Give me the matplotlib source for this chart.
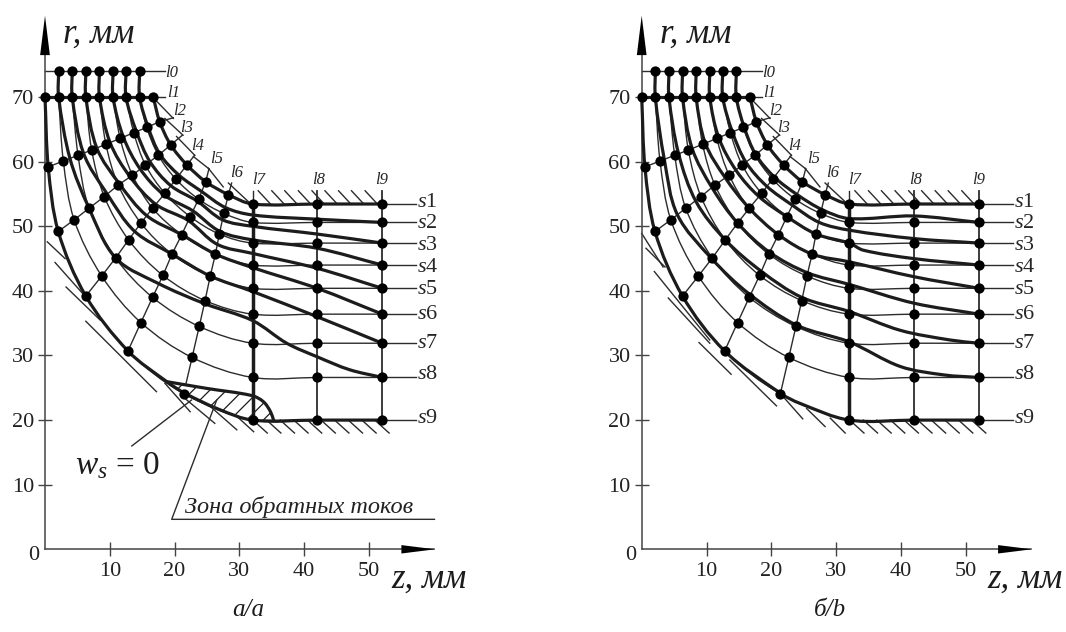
import numpy as np
import matplotlib
matplotlib.use("Agg")
import matplotlib.pyplot as plt
from matplotlib.path import Path
from matplotlib.patches import PathPatch

plt.rcParams['font.family'] = ['Liberation Serif', 'DejaVu Serif']
plt.rcParams['mathtext.fontset'] = 'custom'
plt.rcParams['mathtext.rm'] = 'Liberation Serif'
plt.rcParams['mathtext.it'] = 'Liberation Serif:italic'
plt.rcParams['hatch.linewidth'] = 0.9

INK = '#1c1c1c'
THIN = '#2c2c2c'

# Grid nodes. Each list goes s1 ... s9 along one l line.
l0_z = [2.1, 4.2, 6.3, 8.4, 10.5, 12.5, 14.6]
l0_r = [74] * 7
l1_z = [16.7, 14.6, 12.5, 10.5, 8.4, 6.3, 4.2, 2.1, 0]
l1_r = [70] * 9
l2_z = [17.7, 15.7, 13.7, 11.6, 9.4, 7.2, 5.1, 2.83, 0.5]
l2_r = [66.2, 65.3, 64.5, 63.6, 62.7, 61.8, 61.0, 60.1, 59.2]
l3_z = [19.4, 17.5, 15.5, 13.5, 11.3, 9.15, 6.8, 4.5, 2.05]
l3_r = [62.6, 61, 59.5, 57.9, 56.4, 54.6, 52.8, 51, 49.2]
l4_z = [21.9, 20.2, 18.5, 16.6, 14.8, 12.9, 10.9, 8.75, 6.3]
l4_r = [59.5, 57.3, 55.1, 52.8, 50.5, 47.9, 45.1, 42.3, 39.2]
l5_z = [24.8, 23.7, 22.4, 21.1, 19.6, 18.2, 16.6, 14.8, 12.8]
l5_r = [56.9, 54.2, 51.5, 48.7, 45.7, 42.4, 39, 35.1, 30.7]
l6_z = [28.3, 27.6, 26.9, 26.3, 25.5, 24.7, 23.8, 22.7, 21.4]
l6_r = [54.9, 52, 48.8, 45.7, 42.3, 38.5, 34.5, 29.7, 24.1]
tail_r = [53.45, 50.6, 47.4, 44, 40.4, 36.4, 31.9, 26.6, 20]
l7_z = [32.05] * 9
l8_z = [42] * 9
l9_z = [52.05] * 9

mesh_z = [l1_z, l2_z, l3_z, l4_z, l5_z, l6_z, l7_z, l8_z, l9_z]
mesh_r = [l1_r, l2_r, l3_r, l4_r, l5_r, l6_r, tail_r, tail_r, tail_r]

# Where the l lines stop, above s1
l_tip_z = [18.5, 18.5, 19.8, 21.2, 23.1, 25.3, 28.8, 32.05, 42, 52.05]
l_tip_r = [74, 70, 66.8, 64.1, 61, 58.9, 56.7, 55.5, 55.5, 55.5]
l_names = ['l0', 'l1', 'l2', 'l3', 'l4', 'l5', 'l6', 'l7', 'l8', 'l9']
l_name_z = [19.6, 19.8, 20.7, 21.9, 23.6, 26.5, 29.5, 32.9, 42.2, 52.0]
l_name_r = [73.8, 70.6, 67.9, 65.2, 62.5, 60.4, 58.3, 57.2, 57.2, 57.2]
s_names = ['s1', 's2', 's3', 's4', 's5', 's6', 's7', 's8', 's9']
s_line_end = 57.3
s_name_r = [53.7, 50.4, 47, 43.6, 40.2, 36.4, 31.9, 27.1, 20.3]

# Thick stream lines, panel a
a_s1 = ([16.7, 17.7, 19.4, 21.9, 24.8, 28.3, 32.05, 42, 52.05],
        [70, 66.2, 62.6, 59.5, 56.9, 54.9, 53.45, 53.45, 53.45])
a_s2 = ([14.6, 14.6, 15.9, 17.7, 20.7, 24.15, 27.85, 32.05, 42, 52.05],
        [74, 70, 65.4, 61.2, 57.9, 55.4, 52.9, 51.75, 51.1, 50.6])
a_s3 = ([12.5, 12.5, 14.1, 16.2, 19.4, 23.5, 27.4, 32.05, 42, 52.05],
        [74, 70, 64.7, 60, 56.3, 53.9, 51, 50, 48.8, 47.4])
a_s4 = ([10.5, 10.5, 12.1, 14.7, 18.3, 22.8, 27, 32.05, 42, 52.05],
        [74, 70, 63.8, 58.85, 54.9, 52.4, 49.2, 47.9, 46.6, 44])
a_s5 = ([8.4, 8.4, 10.05, 13.1, 17.1, 22.1, 26.6, 32.05, 42, 52.05],
        [74, 70, 62.95, 57.7, 53.4, 50.9, 47.2, 45.8, 43.5, 40.4])
a_s6 = ([6.3, 6.3, 8, 11.5, 15.7, 21.1, 26.3, 32.05, 42, 52.05],
        [74, 70, 62.1, 56.55, 51.65, 48.7, 45.7, 43.6, 40.4, 36.4])
a_s7 = ([4.2, 4.2, 5.95, 9.6, 13.85, 19.6, 25.5, 32.05, 42, 52.05],
        [74, 70, 61.3, 55, 49.2, 45.7, 42.3, 39.9, 36, 31.9])
a_s8 = ([2.1, 2.1, 3.85, 6.8, 10.9, 17.4, 24.7, 32.05, 37.3, 42, 47, 52.05],
        [74, 70, 60.5, 52.8, 45.1, 41.2, 38, 35.4, 31.9, 29.8, 27.8, 26.6])
a_s9 = ([0, 0.5, 2.05, 6.3, 12.8, 18.8, 21.6, 27, 32.05, 42, 52.05],
        [70, 59.2, 49.2, 39.2, 30.7, 25.95, 24.15, 21.6, 20, 20, 20])
a_thick = [a_s1, a_s2, a_s3, a_s4, a_s5, a_s6, a_s7, a_s8, a_s9]

# Thick stream lines, panel b
b_s2 = ([14.6, 14.6, 15.8, 17.6, 20.5, 24, 27.8, 32.05, 42, 52.05],
        [74, 70, 65.4, 61.1, 57.6, 54.9, 52.6, 51.2, 51.6, 50.6])
b_s3 = ([12.5, 12.5, 14, 16.1, 19.3, 23.2, 27.4, 32.05, 42, 52.05],
        [74, 70, 64.6, 59.9, 56.2, 53.3, 50.6, 49.4, 48.1, 47.4])
b_s4 = ([10.5, 10.5, 11.9, 14.6, 18.1, 22.4, 26.9, 32.05, 34.2, 42, 52.05],
        [74, 70, 63.7, 58.6, 54.6, 51.5, 48.8, 47.4, 46.3, 45, 44])
b_s5 = ([8.4, 8.4, 9.8, 12.9, 16.6, 21.1, 26.3, 32.05, 42, 52.05],
        [74, 70, 62.9, 57.5, 52.8, 48.7, 45.7, 44.5, 42.2, 40.4])
b_s6 = ([6.3, 6.3, 7.8, 10.9, 14.8, 19.7, 25.6, 32.05, 42, 52.05],
        [74, 70, 62, 55.9, 50.5, 46, 42.8, 41, 38.1, 36.4])
b_s7 = ([4.2, 4.2, 5.7, 8.4, 12.9, 18.5, 24.7, 32.05, 39.9, 47.6, 52.05],
        [74, 70, 61.2, 53.8, 47.9, 43, 39, 36.8, 33.9, 32.4, 31.9])
b_s8 = ([2.1, 2.1, 3.5, 5.5, 10.8, 16.5, 23.9, 32.05, 39.9, 46.6, 52.05],
        [74, 70, 60.3, 51.8, 45, 39.6, 34.7, 32.1, 28.3, 27, 26.6])
b_s9 = ([0, 0.5, 2.05, 6.3, 12.8, 21.5, 24.4, 32.05, 42, 52.05],
        [70, 59.2, 49.2, 39.2, 30.7, 24.1, 22.6, 20, 20, 20])
b_thick = [a_s1, b_s2, b_s3, b_s4, b_s5, b_s6, b_s7, b_s8, b_s9]

# Backflow zone in panel a
zone_z = [18.8, 25, 31.9, 33.7, 34.8, 35.3, 32.05, 27, 21.6]
zone_r = [25.95, 24.9, 23.8, 22.85, 21.3, 19.9, 20, 21.6, 24.15]
zone_edge_z = [18.8, 25, 31.9, 33.7, 34.8, 35.3]
zone_edge_r = [25.95, 24.9, 23.8, 22.85, 21.3, 19.9]
lead_w_z = [13.4, 22.6]
lead_w_r = [16, 23.1]
lead_zone_z = [60.1, 19.55, 26.5]
lead_zone_r = [4.64, 4.64, 23.1]

# Wall strokes (z0, r0, z1, r1)
wall_upper = [(17, 69.6, 19.8, 66.7), (18.5, 66.7, 21.3, 64.1), (20.3, 63.9, 23.1, 61),
              (22.9, 60.8, 25.3, 58.9), (25.2, 59, 27.5, 56.1), (28.3, 56.7, 31.4, 53.8)]
top_tick_z = [32.9, 35, 37, 39.1, 41.2, 43.2, 45.3, 47.3, 49.4]
bottom_tick_z = [32.1, 34.2, 36.3, 38.4, 40.5, 42.6, 44.7, 46.8, 48.9, 50.9]
a_wall = [(0.35, 47.6, 3.1, 45), (1.55, 44.4, 6.7, 38.6), (3.25, 40.6, 8.5, 35.5),
          (6.3, 35.3, 17.2, 24.4), (18.5, 25.7, 22.4, 21.3), (21.3, 23.6, 26.2, 19.5),
          (24.95, 22.6, 29.6, 18.5), (29.1, 21.05, 32.2, 18.2)]
b_wall = [(0, 48.9, 3.3, 43.7), (0.66, 46.6, 3.6, 43.7), (1.95, 43, 10.5, 32.4),
          (4.1, 38.9, 10.5, 31.9), (8.85, 32, 13.8, 27.1), (13.6, 29.3, 20.8, 22.2),
          (21.85, 23.6, 24.85, 20.2), (25.45, 21.8, 28.3, 19), (29.1, 20.3, 31.4, 18)]

r_ticks = [10, 20, 30, 40, 50, 60, 70]
z_ticks = [10, 20, 30, 40, 50]


def smooth_path(z, r):
    # Spline through every point, handles scaled by chord so uneven spacing does not wobble.
    p = np.column_stack([z, r]).astype(float)
    n = len(p)
    tangent = []
    for i in range(n):
        d = p[min(i + 1, n - 1)] - p[max(i - 1, 0)]
        tangent.append(d / np.hypot(*d))
    verts = [p[0]]
    codes = [Path.MOVETO]
    for i in range(n - 1):
        chord = np.hypot(*(p[i + 1] - p[i])) / 3
        verts += [p[i] + tangent[i] * chord, p[i + 1] - tangent[i + 1] * chord, p[i + 1]]
        codes += [Path.CURVE4] * 3
    return Path(verts, codes)


def add_curve(ax, z, r, lw, color=INK, zorder=3):
    ax.add_patch(PathPatch(smooth_path(z, r), fill=False, lw=lw, ec=color,
                           zorder=zorder, capstyle='round'))


def draw_panel(ax, thick, wall, caption, caption_z):
    for side in ['top', 'right']:
        ax.spines[side].set_visible(False)
    for side in ['left', 'bottom']:
        ax.spines[side].set_position(('data', 0))
        ax.spines[side].set_color('#444444')
        ax.spines[side].set_linewidth(1.1)
    ax.spines['left'].set_bounds(0, 80)
    ax.spines['bottom'].set_bounds(0, 60)
    ax.set_xticks(z_ticks)
    ax.set_yticks(r_ticks)
    ax.tick_params(direction='inout', length=10, width=1.0, color='#444444',
                   labelsize=16, labelcolor='#222222')
    ax.tick_params(axis='x', pad=4)
    ax.tick_params(axis='y', pad=3)
    ax.patch.set_alpha(0)

    # arrow heads
    ax.fill([-0.75, 0, 0.75], [76.5, 82.6, 76.5], color='black', lw=0, zorder=5)
    ax.fill([55, 60.2, 55], [-0.65, 0, 0.65], color='black', lw=0, zorder=5)

    ax.text(-1.7, -0.9, '0', fontsize=16, ha='center', va='center', color='#222222')
    ax.text(2.8, 78.4, 'r, мм', fontsize=25, style='italic', color=INK, va='baseline')
    ax.text(53.4, -6, 'z, мм', fontsize=25, style='italic', color=INK, va='baseline')
    ax.text(caption_z, -10.3, caption, fontsize=18, style='italic', color=INK,
            ha='center', va='baseline')

    # thin grid: s lines
    for k in range(9):
        z = [col[k] for col in mesh_z]
        r = [col[k] for col in mesh_r]
        add_curve(ax, z, r, 1.0, THIN, 2)
        ax.plot([z[-1], s_line_end], [r[-1], r[-1]], color=THIN, lw=1.0, zorder=2)
        ax.text(s_line_end + 0.1, s_name_r[k], f'$\\mathit{{s}}${s_names[k][1:]}', fontsize=16,
                color='#262626', va='center', ha='left')

    # thin grid: l lines
    ax.plot([0, l_tip_z[0]], [l0_r[0], l_tip_r[0]], color=THIN, lw=1.0, zorder=2)
    ax.plot([16.7, l_tip_z[1]], [70, l_tip_r[1]], color=THIN, lw=1.0, zorder=2)
    for j in range(1, 6):
        ax.plot([l_tip_z[j + 1]] + mesh_z[j], [l_tip_r[j + 1]] + mesh_r[j],
                color=THIN, lw=1.0, zorder=2)
    for j in range(8, 10):
        ax.plot([l_tip_z[j], l_tip_z[j]], [l_tip_r[j], tail_r[-1]], color=THIN, lw=1.3, zorder=2)
    ax.plot([l_tip_z[7], l_tip_z[7]], [l_tip_r[7], 53.45], color=THIN, lw=1.0, zorder=2)
    ax.plot([l_tip_z[7], l_tip_z[7]], [53.45, tail_r[-1]], color=INK, lw=2.5, zorder=3)
    ax.plot(l1_z, l1_r, color=INK, lw=2.3, zorder=3)
    for j, name in enumerate(l_names):
        ax.text(l_name_z[j], l_name_r[j], name, fontsize=12, style='italic', color='#262626',
                ha='center', va='center')

    # thick stream lines
    for z, r in thick:
        add_curve(ax, z, r, 2.3)

    # walls
    for z0, r0, z1, r1 in wall_upper + wall:
        ax.plot([z0, z1], [r0, r1], color=THIN, lw=1.0, zorder=2)
    for z0 in top_tick_z:
        ax.plot([z0, z0 + 1.9], [55.5, 53.45], color=THIN, lw=1.0, zorder=2)
    for z0 in bottom_tick_z:
        ax.plot([z0, z0 + 2.2], [20, 18], color=THIN, lw=1.0, zorder=2)

    # nodes
    ax.plot(l0_z, l0_r, 'o', color='black', ms=7.4, mew=0, zorder=4)
    for z, r in zip(mesh_z, mesh_r):
        ax.plot(z, r, 'o', color='black', ms=7.4, mew=0, zorder=4)


fig = plt.figure(figsize=(10.66, 6.32), dpi=100)

px_mm_z = 6.48
px_mm_r = 6.46
zero_y = 549.3


def panel_axes(left_px, width_px, zero_x):
    ax = fig.add_axes([left_px / 1066, 0, width_px / 1066, 1])
    ax.set_xlim((left_px - zero_x) / px_mm_z, (left_px + width_px - zero_x) / px_mm_z)
    ax.set_ylim((zero_y - 632) / px_mm_r, zero_y / px_mm_r)
    return ax


ax_a = panel_axes(0, 533, 45)
ax_b = panel_axes(533, 533, 641.7)

draw_panel(ax_a, a_thick, a_wall, 'а/а', 31.3)
draw_panel(ax_b, b_thick, b_wall, 'б/b', 29.1)

# panel a only: backflow zone
ax_a.fill(zone_z, zone_r, facecolor='white', edgecolor=INK, hatch='//', lw=0, zorder=2.5)
add_curve(ax_a, zone_edge_z, zone_edge_r, 2.3)
ax_a.plot(lead_w_z, lead_w_r, color=THIN, lw=1.0, zorder=3)
ax_a.plot(lead_zone_z, lead_zone_r, color=THIN, lw=1.0, zorder=3)
ax_a.text(4.6, 12.9, '$\\mathit{w}_{\\mathit{s}}$ = 0', fontsize=24, color=INK, va='center')
ax_a.text(21.6, 4.9, 'Зона обратных токов', fontsize=17.5, style='italic', color='#222222',
          va='bottom')

fig.savefig('out.png', dpi=100)
